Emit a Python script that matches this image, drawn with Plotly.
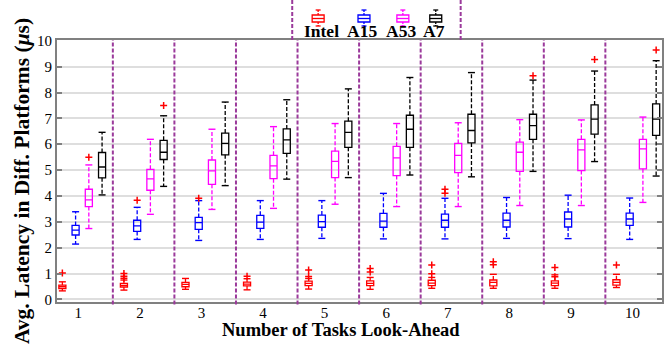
import plotly.graph_objects as go

groups = [1, 2, 3, 4, 5, 6, 7, 8, 9, 10]
tick_labels = ["1", "2", "3", "4", "5", "6", "7", "8", "9", "10"]
series_names = ["Intel", "A15", "A53", "A7"]

intel_q1 = [0.42, 0.48, 0.49, 0.52, 0.53, 0.53, 0.53, 0.52, 0.53, 0.55]
intel_med = [0.49, 0.54, 0.58, 0.59, 0.62, 0.62, 0.63, 0.66, 0.63, 0.66]
intel_q3 = [0.55, 0.62, 0.66, 0.67, 0.71, 0.72, 0.74, 0.75, 0.72, 0.76]
intel_lo = [0.33, 0.36, 0.39, 0.37, 0.40, 0.39, 0.43, 0.43, 0.43, 0.46]
intel_hi = [0.68, 0.75, 0.81, 0.80, 0.81, 0.85, 0.85, 0.97, 0.95, 0.97]
intel_out = [[1.02], [0.82, 0.90, 1.0], [], [0.90], [0.89, 1.14], [1.06, 1.20],
             [0.99, 1.33], [1.34, 1.46], [0.88, 1.23], [1.33]]

a15_q1 = [2.49, 2.63, 2.71, 2.75, 2.79, 2.79, 2.79, 2.80, 2.80, 2.86]
a15_med = [2.68, 2.84, 2.97, 2.99, 3.01, 3.03, 3.06, 3.06, 3.11, 3.11]
a15_q3 = [2.86, 3.06, 3.17, 3.25, 3.26, 3.33, 3.30, 3.34, 3.38, 3.34]
a15_lo = [2.14, 2.32, 2.28, 2.32, 2.36, 2.34, 2.34, 2.36, 2.35, 2.32]
a15_hi = [3.39, 3.56, 3.82, 3.82, 3.82, 4.10, 3.91, 3.94, 4.03, 3.92]
a15_out = [[], [3.83], [3.91], [], [], [], [4.10, 4.26], [], [], []]

a53_q1 = [3.59, 4.22, 4.45, 4.67, 4.71, 4.79, 4.90, 4.95, 4.98, 5.05]
a53_med = [3.85, 4.66, 4.97, 5.16, 5.34, 5.47, 5.57, 5.69, 5.78, 5.82]
a53_q3 = [4.26, 5.03, 5.39, 5.57, 5.73, 5.92, 6.03, 6.08, 6.19, 6.19]
a53_lo = [2.74, 3.29, 3.48, 3.52, 3.68, 3.59, 3.59, 3.63, 3.63, 3.75]
a53_hi = [5.20, 6.19, 6.58, 6.68, 6.80, 6.80, 6.83, 6.95, 6.94, 7.05]
a53_out = [[5.5], [], [], [], [], [], [], [], [], []]

a7_q1 = [4.70, 5.41, 5.59, 5.65, 5.88, 5.88, 6.05, 6.19, 6.39, 6.34]
a7_med = [5.12, 5.69, 6.03, 6.17, 6.46, 6.58, 6.53, 6.72, 6.97, 6.97]
a7_q3 = [5.68, 6.15, 6.43, 6.59, 6.89, 7.12, 7.16, 7.16, 7.52, 7.56]
a7_lo = [4.04, 4.37, 4.40, 4.65, 4.71, 4.81, 4.74, 4.95, 5.33, 4.77]
a7_hi = [6.46, 7.10, 7.63, 7.72, 8.14, 8.58, 8.77, 8.48, 8.83, 9.23]
a7_out = [[], [7.5], [], [], [], [], [], [8.65], [9.28], [9.64]]

colors = ["#ff0000", "#0000ff", "#ff00ff", "#000000"]
offsets = [-0.32, -0.105, 0.11, 0.325]
series = [
    (intel_q1, intel_med, intel_q3, intel_lo, intel_hi, intel_out),
    (a15_q1, a15_med, a15_q3, a15_lo, a15_hi, a15_out),
    (a53_q1, a53_med, a53_q3, a53_lo, a53_hi, a53_out),
    (a7_q1, a7_med, a7_q3, a7_lo, a7_hi, a7_out),
]

# layout geometry (pixels)
W, H = 669, 345
ML, MR, MT, MB = 57, 5, 40, 43
PW, PH = W - ML - MR, H - MT - MB


def px_x(px):
    return (px - ML) / PW


def px_y(py):
    return (H - MB - py) / PH


fig = go.Figure()
SERIF = "Liberation Serif"

for name, col, off, (q1, med, q3, lo, hi, outs) in zip(series_names, colors, offsets, series):
    xs = [g + off for g in groups]
    fig.add_trace(go.Box(
        x=xs, q1=q1, median=med, q3=q3, lowerfence=q1, upperfence=q3,
        width=0.115, whiskerwidth=0, boxpoints=False,
        line=dict(color=col, width=1.3), fillcolor="rgba(0,0,0,0)",
        name=name, showlegend=False, hoverinfo="skip",
    ))
    wx, wy = [], []
    for x, a, b, c, d in zip(xs, q3, hi, q1, lo):
        wx += [x, x, None, x, x, None]
        wy += [a, b, None, c, d, None]
    fig.add_trace(go.Scatter(
        x=wx, y=wy, mode="lines", line=dict(color=col, width=1.3, dash="4px,2px"),
        showlegend=False, hoverinfo="skip",
    ))
    fig.add_trace(go.Scatter(
        x=xs + xs, y=hi + lo, mode="markers",
        marker=dict(symbol="line-ew", size=5, line=dict(color=col, width=1.4)),
        showlegend=False, hoverinfo="skip",
    ))
    ox, oy = [], []
    for x, o in zip(xs, outs):
        for v in o:
            ox.append(x)
            oy.append(v)
    fig.add_trace(go.Scatter(
        x=ox, y=oy, mode="markers",
        marker=dict(symbol="cross-thin", size=5, line=dict(color="#ff0000", width=1.5)),
        showlegend=False, hoverinfo="skip",
    ))

shapes = []
sep_color = "#9b3a9b"
for g in groups[:-1]:
    shapes.append(dict(type="line", xref="x", yref="paper", x0=g + 0.5, x1=g + 0.5,
                       y0=-0.01, y1=1, line=dict(color=sep_color, width=2, dash="4px,2px")))
# legend box side lines
for px in (293, 462):
    shapes.append(dict(type="line", xref="paper", yref="paper", x0=px_x(px), x1=px_x(px),
                       y0=1, y1=px_y(0), line=dict(color=sep_color, width=2, dash="4px,2px")))

# legend icons
icon_cx = [319, 365, 404, 437]
text_cx = [322, 363, 402, 435]
annotations = []
for name, col, cx, tx in zip(series_names, colors, icon_cx, text_cx):
    hw = 6
    shapes.append(dict(type="rect", xref="paper", yref="paper",
                       x0=px_x(cx - hw), x1=px_x(cx + hw), y0=px_y(22), y1=px_y(15),
                       line=dict(color=col, width=1.3)))
    shapes.append(dict(type="line", xref="paper", yref="paper",
                       x0=px_x(cx - hw), x1=px_x(cx + hw), y0=px_y(18.5), y1=px_y(18.5),
                       line=dict(color=col, width=1.3)))
    for a, b in ((15, 10), (22, 26)):
        shapes.append(dict(type="line", xref="paper", yref="paper",
                           x0=px_x(cx), x1=px_x(cx), y0=px_y(a), y1=px_y(b),
                           line=dict(color=col, width=1.3, dash="2px,1px")))
        shapes.append(dict(type="line", xref="paper", yref="paper",
                           x0=px_x(cx - 2.5), x1=px_x(cx + 2.5), y0=px_y(b), y1=px_y(b),
                           line=dict(color=col, width=1.3)))
    annotations.append(dict(text="<b>%s</b>" % name, xref="paper", yref="paper",
                            x=px_x(tx), y=px_y(43), xanchor="center", yanchor="bottom",
                            showarrow=False, font=dict(family=SERIF, size=17.5, color="black")))

annotations.append(dict(text="<b>Number of Tasks Look-Ahead</b>", xref="paper", yref="paper",
                        x=px_x(342), y=px_y(330), xanchor="center", yanchor="middle",
                        showarrow=False, font=dict(family=SERIF, size=18.5, color="black")))
annotations.append(dict(text="<b>Avg. Latency in Diff. Platforms (</b><b><i>\u03bc</i>s)</b>",
                        xref="paper", yref="paper", textangle=-90,
                        x=px_x(22), y=px_y(181), xanchor="center", yanchor="middle",
                        showarrow=False, font=dict(family=SERIF, size=21.5, color="black")))

fig.update_layout(
    width=W, height=H, margin=dict(l=ML, r=MR, t=MT, b=MB),
    paper_bgcolor="white", plot_bgcolor="white",
    boxmode="overlay", showlegend=False,
    shapes=shapes, annotations=annotations,
    font=dict(family=SERIF, size=14, color="black"),
    xaxis=dict(range=[0.593, 10.42], tickvals=[g - 0.06 for g in groups], ticktext=tick_labels,
               showgrid=False, zeroline=False, showline=True, linecolor="#808080", linewidth=2,
               mirror=True, ticks="", ticklabelstandoff=-4,
               tickfont=dict(family=SERIF, size=15, color="black")),
    yaxis=dict(range=[-0.1, 10.03], tickvals=list(range(0, 11)), showgrid=True,
               gridcolor="#dedede", gridwidth=1.5, zeroline=False, showline=True,
               linecolor="#808080", linewidth=2, mirror="ticks", ticks="inside", ticklen=5,
               tickcolor="#808080", tickwidth=1.5,
               tickfont=dict(family=SERIF, size=15, color="black")),
)

fig.write_html("out.html", config={"displayModeBar": False},
               post_script="document.body.style.margin='0';document.body.style.overflow='hidden';")
